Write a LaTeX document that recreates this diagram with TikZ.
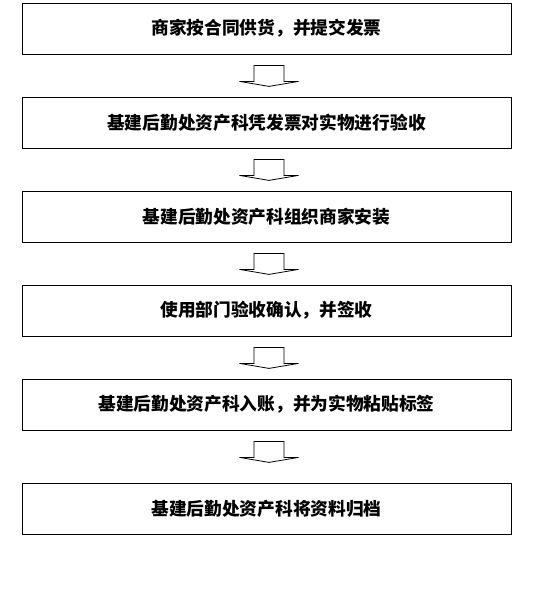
\documentclass[tikz,border=0pt]{standalone}
\usepackage{fontspec}
\newfontfamily\cjk{Noto Sans CJK SC}
\begin{document}
\begin{tikzpicture}[x=1pt, y=1pt, node distance = 94pt,
                    box/.style={draw, line width=0.8pt, minimum width=489pt, minimum height=51pt, inner sep=0pt,
                                font=\cjk\bfseries\fontsize{17.7pt}{20pt}\selectfont},
                    flow/.style={draw, line width=0.8pt, fill=white, line join=miter}]
                    \useasboundingbox (0,0) rectangle (552,-606);
                    \node (supply)[box] at (266.5,-28.5) {商家按合同供货，并提交发票};
                    \node (check)[box, below of=supply] {基建后勤处资产科凭发票对实物进行验收};
                    \node (install)[box, below of=check] {基建后勤处资产科组织商家安装};
                    \node (accept)[box, below of=install] {使用部门验收确认，并签收};
                    \node (book)[box, below of=accept] {基建后勤处资产科入账，并为实物粘贴标签};
                    \node (file)[box, node distance=104pt, below of=book] {基建后勤处资产科将资料归档};
                    \foreach \a in {supply, check, install, accept, book}
                        \draw[flow] ([xshift=-12.5pt, yshift=-11pt]\a.south) -- ++(0,-16) -- ++(-14.5,0)
                            -- ++(29.5,-5) -- ++(29.5,5) -- ++(-14.5,0) -- ++(0,16) -- cycle;
                \end{tikzpicture}
\end{document}
